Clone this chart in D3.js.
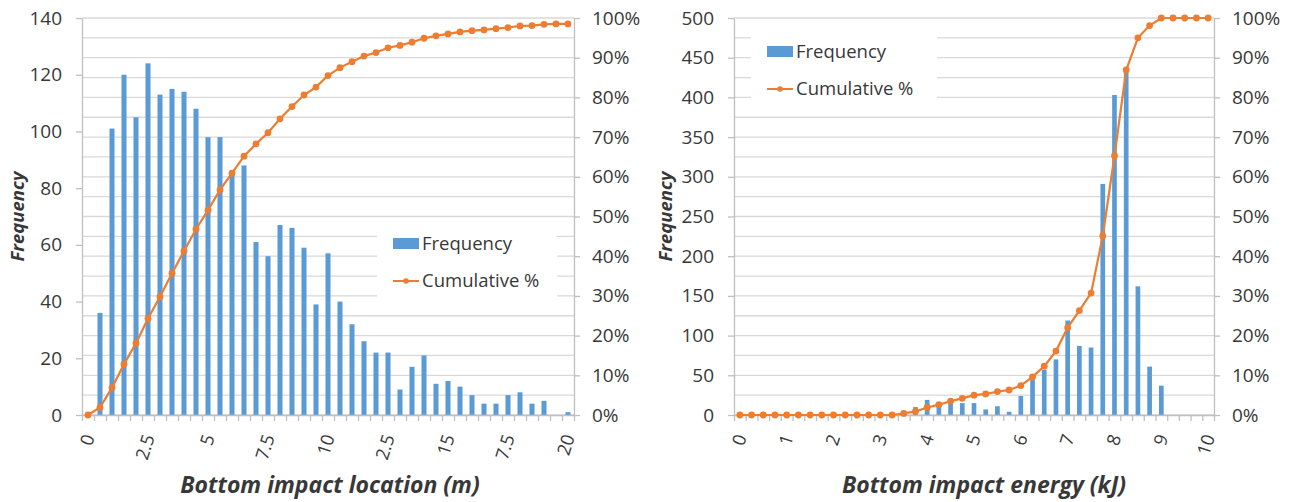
<!DOCTYPE html>
<html>
<head>
<meta charset="utf-8">
<script src="https://cdn.jsdelivr.net/npm/d3@7"></script>
<style>
    body { margin: 0; background: #fff; }
    svg text { font-family: "Open Sans", sans-serif; fill: #383838; }
</style>
</head>
<body>
<div id="chart"></div>
<script>
// ---- Left chart: bottom impact location ----
const locBins = [0, 0.5, 1, 1.5, 2, 2.5, 3, 3.5, 4, 4.5, 5, 5.5, 6, 6.5, 7, 7.5, 8, 8.5, 9, 9.5,
    10, 10.5, 11, 11.5, 12, 12.5, 13, 13.5, 14, 14.5, 15, 15.5, 16, 16.5, 17, 17.5, 18, 18.5, 19, 19.5, 20];
const locFrequency = [0, 36, 101, 120, 105, 124, 113, 115, 114, 108, 98, 98, 86, 88, 61, 56, 67, 66, 59, 39,
    57, 40, 32, 26, 22, 22, 9, 17, 21, 11, 12, 10, 7, 4, 4, 7, 8, 4, 5, 0, 1];
const locCumulative = [0, 1.9, 6.9, 12.8, 18.1, 24.3, 29.8, 35.7, 41.3, 46.8, 51.6, 56.7, 60.9, 65.2, 68.3, 71.1,
    74.6, 77.7, 80.6, 82.6, 85.5, 87.5, 89.0, 90.4, 91.3, 92.5, 93.1, 93.9, 94.9, 95.5, 96.0, 96.5, 96.8, 97.0,
    97.3, 97.6, 98.0, 98.1, 98.4, 98.5, 98.5];
const locLabelBins = [0, 2.5, 5, 7.5, 10, 12.5, 15, 17.5, 20];
const locLabelText = ['0', '2.5', '5', '7.5', '10', '2.5', '15', '7.5', '20'];
const locFreqTicks = [0, 20, 40, 60, 80, 100, 120, 140];

// ---- Right chart: bottom impact energy ----
const enBins = [0, 0.25, 0.5, 0.75, 1, 1.25, 1.5, 1.75, 2, 2.25, 2.5, 2.75, 3, 3.25, 3.5, 3.75, 4, 4.25, 4.5, 4.75,
    5, 5.25, 5.5, 5.75, 6, 6.25, 6.5, 6.75, 7, 7.25, 7.5, 7.75, 8, 8.25, 8.5, 8.75, 9, 9.25, 9.5, 9.75, 10];
const enFrequency = [0, 0, 0, 0, 0, 0, 0, 0, 0, 0, 0, 0, 0, 0, 5, 10, 19, 13, 16, 15,
    15, 7, 11, 4, 24, 44, 57, 70, 119, 87, 85, 291, 403, 435, 162, 61, 37, 0, 0, 0, 0];
const enCumulative = [0, 0, 0, 0, 0, 0, 0, 0, 0, 0, 0, 0, 0, 0, 0.4, 0.9, 1.9, 2.6, 3.5, 4.2,
    5.0, 5.3, 5.9, 6.3, 7.4, 9.6, 12.3, 16.1, 22.0, 26.3, 30.7, 45.1, 65.3, 86.9, 95.0, 98.1, 100, 100, 100, 100, 100];
const enLabelBins = [0, 1, 2, 3, 4, 5, 6, 7, 8, 9, 10];
const enLabelText = ['0', '1', '2', '3', '4', '5', '6', '7', '8', '9', '10'];
const enFreqTicks = [0, 50, 100, 150, 200, 250, 300, 350, 400, 450, 500];

const pctTicks = [0, 10, 20, 30, 40, 50, 60, 70, 80, 90, 100];
const gridPct = d3.range(0, 101, 5);

const barColor = '#5B9BD5';
const lineColor = '#ED7D31';
const axisColor = '#bfbfbf';
const gridColor = '#d9d9d9';
const textColor = '#383838';

const svg = d3.select('#chart')
    .append('svg')
    .attr('width', 1296)
    .attr('height', 502);

function drawPareto(cfg) {
    const g = svg.append('g');
    const top = 18, bottom = 415;

    const x = d3.scaleBand()
        .domain(cfg.bins)
        .range([cfg.left, cfg.right])
        .padding(0);
    // index scale for tick marks on bin boundaries
    const xi = d3.scaleLinear()
        .domain([0, cfg.bins.length])
        .range([cfg.left, cfg.right]);
    const yF = d3.scaleLinear().domain([0, cfg.freqMax]).range([bottom, top]);
    const yP = d3.scaleLinear().domain([0, 100]).range([bottom, top]);

    // Grid lines
    g.append('g')
        .selectAll('line')
        .data(gridPct)
        .enter()
        .append('line')
        .attr('x1', cfg.left)
        .attr('x2', cfg.right)
        .attr('y1', d => yP(d))
        .attr('y2', d => yP(d))
        .attr('stroke', gridColor)
        .attr('stroke-width', 1.3);

    // Bars
    const bw = x.bandwidth() * cfg.barFrac;
    g.append('g')
        .selectAll('rect')
        .data(cfg.bins.map((b, i) => ({ bin: b, v: cfg.freq[i] })))
        .enter()
        .append('rect')
        .attr('x', d => x(d.bin) + (x.bandwidth() - bw) / 2)
        .attr('width', bw)
        .attr('y', d => yF(d.v))
        .attr('height', d => bottom - yF(d.v))
        .attr('fill', barColor);

    // Legend background (hides grid)
    g.append('rect')
        .attr('x', cfg.legend.x - 16)
        .attr('y', cfg.legend.y - 12)
        .attr('width', cfg.legend.w)
        .attr('height', 76)
        .attr('fill', '#fff');

    // Bottom axis
    g.append('g')
        .attr('transform', `translate(0,${bottom})`)
        .call(d3.axisBottom(xi).tickValues(d3.range(cfg.bins.length + 1)).tickSize(6).tickSizeOuter(0).tickFormat(''))
        .call(a => a.selectAll('line,path').attr('stroke', axisColor).attr('stroke-width', 1.3));

    // Left axis
    g.append('g')
        .attr('transform', `translate(${cfg.left},0)`)
        .call(d3.axisLeft(yF).tickValues(cfg.freqTicks).tickSize(6).tickSizeOuter(0).tickPadding(14))
        .call(a => a.selectAll('line,path').attr('stroke', axisColor).attr('stroke-width', 1.3))
        .call(a => a.selectAll('text').style('font-size', '19px').attr('fill', textColor));

    // Right axis
    g.append('g')
        .attr('transform', `translate(${cfg.right},0)`)
        .call(d3.axisRight(yP).tickValues(pctTicks).tickSize(6).tickSizeOuter(0).tickPadding(12).tickFormat(d => d + '%'))
        .call(a => a.selectAll('line,path').attr('stroke', axisColor).attr('stroke-width', 1.3))
        .call(a => a.selectAll('text').style('font-size', '19px').attr('fill', textColor));

    // X tick labels (rotated)
    g.append('g')
        .selectAll('text')
        .data(cfg.labelBins)
        .enter()
        .append('text')
        .attr('transform', d => `translate(${x(d) + x.bandwidth() / 2 + 1},${bottom + 20}) rotate(-72)`)
        .attr('text-anchor', 'end')
        .attr('dy', '0.35em')
        .style('font-size', '18px')
        .text((d, i) => cfg.labelText[i]);

    // Cumulative line
    const pts = cfg.bins.map((b, i) => ({ bin: b, v: cfg.cum[i] }));
    const line = d3.line()
        .x(d => x(d.bin) + x.bandwidth() / 2)
        .y(d => yP(d.v));
    g.append('path')
        .datum(pts)
        .attr('d', line)
        .attr('fill', 'none')
        .attr('stroke', lineColor)
        .attr('stroke-width', 2.2);
    g.append('g')
        .selectAll('circle')
        .data(pts)
        .enter()
        .append('circle')
        .attr('cx', d => x(d.bin) + x.bandwidth() / 2)
        .attr('cy', d => yP(d.v))
        .attr('r', 3.4)
        .attr('fill', lineColor);

    // Legend
    const lg = g.append('g').attr('transform', `translate(${cfg.legend.x},${cfg.legend.y})`);
    lg.append('rect')
        .attr('x', 0).attr('y', 0)
        .attr('width', 26).attr('height', 11)
        .attr('fill', barColor);
    lg.append('text')
        .attr('x', 29).attr('y', 6)
        .attr('dy', '0.35em')
        .style('font-size', '18.5px')
        .text('Frequency');
    lg.append('line')
        .attr('x1', 0).attr('x2', 26)
        .attr('y1', 43).attr('y2', 43)
        .attr('stroke', lineColor)
        .attr('stroke-width', 2);
    lg.append('circle')
        .attr('cx', 13).attr('cy', 43).attr('r', 2.8)
        .attr('fill', lineColor);
    lg.append('text')
        .attr('x', 29).attr('y', 43)
        .attr('dy', '0.35em')
        .style('font-size', '18.5px')
        .text('Cumulative %');

    // Axis titles
    g.append('text')
        .attr('transform', `translate(${cfg.yTitleX},${(top + bottom) / 2}) rotate(-90)`)
        .attr('text-anchor', 'middle')
        .attr('dy', '0.35em')
        .style('font-size', '18.5px')
        .style('font-weight', '700')
        .style('font-style', 'italic')
        .attr('fill', '#262626')
        .text('Frequency');
    g.append('text')
        .attr('x', cfg.xTitleX)
        .attr('y', 493)
        .attr('text-anchor', 'middle')
        .style('font-size', '23px')
        .style('font-weight', '700')
        .style('font-style', 'italic')
        .attr('fill', '#262626')
        .text(cfg.xTitle);
}

drawPareto({
    left: 82, right: 574,
    bins: locBins, freq: locFrequency, cum: locCumulative,
    freqMax: 140, freqTicks: locFreqTicks,
    labelBins: locLabelBins, labelText: locLabelText,
    barFrac: 0.42,
    legend: { x: 393, y: 238, w: 180 },
    yTitleX: 18, xTitleX: 330,
    xTitle: 'Bottom impact location (m)'
});

drawPareto({
    left: 734, right: 1214,
    bins: enBins, freq: enFrequency, cum: enCumulative,
    freqMax: 500, freqTicks: enFreqTicks,
    labelBins: enLabelBins, labelText: enLabelText,
    barFrac: 0.4,
    legend: { x: 767, y: 46, w: 186 },
    yTitleX: 666, xTitleX: 984,
    xTitle: 'Bottom impact energy (kJ)'
});
</script>
</body>
</html>
